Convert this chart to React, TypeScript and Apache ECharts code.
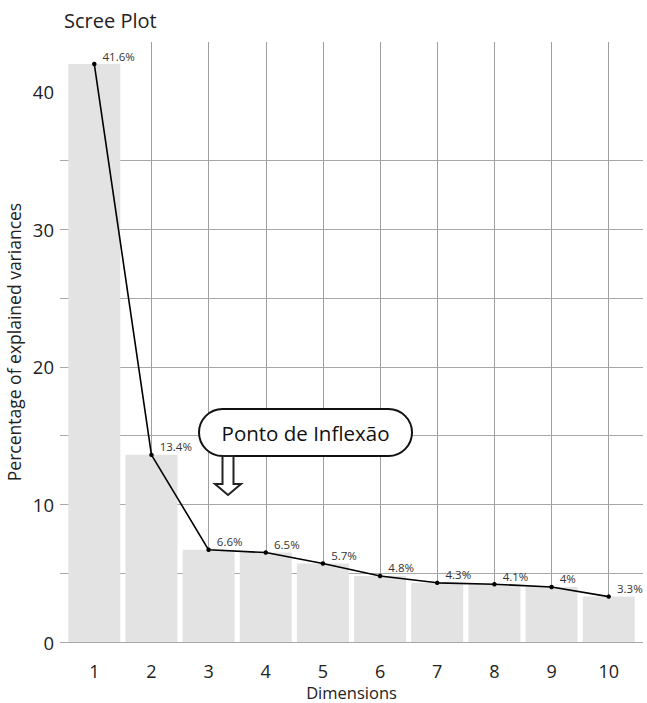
import React, { useEffect, useRef } from "react";
import * as echarts from "echarts";

const dims = [1, 2, 3, 4, 5, 6, 7, 8, 9, 10];
const variances = [42.0, 13.6, 6.7, 6.5, 5.7, 4.8, 4.3, 4.2, 4.0, 3.3];
const pctLabels = ["41.6%", "13.4%", "6.6%", "6.5%", "5.7%", "4.8%", "4.3%", "4.1%", "4%", "3.3%"];
const yTickValues = [0, 5, 10, 15, 20, 25, 30, 35, 40];
const yLabelValues = [0, 10, 20, 30, 40];
const xGridValues = [2, 3, 4, 5, 6, 7, 8, 9, 10];

const FONT = "Open Sans";

export default function App() {
  const ref = useRef<HTMLDivElement>(null);

  useEffect(() => {
    if (!ref.current) return;
    const chart = echarts.init(ref.current, undefined, { renderer: "svg" });
    const pts = dims.map((d, i) => [d, variances[i]]);
    const option: any = {
      animation: false,
      textStyle: { fontFamily: FONT },
      title: {
        text: "Scree Plot",
        left: 59,
        top: 5,
        textStyle: { fontSize: 20, fontWeight: "normal", color: "#222", fontFamily: FONT },
      },
      grid: { left: 60, right: 4, top: 42, bottom: 61, containLabel: false, outerBoundsMode: "none" },
      xAxis: {
        type: "value",
        min: 0.4,
        max: 10.6,
        axisLine: { show: false },
        axisTick: { show: false, customValues: xGridValues },
        axisLabel: { customValues: dims, fontSize: 18, lineHeight: 18, color: "#222", margin: 20, fontFamily: FONT },
        splitLine: { show: true, lineStyle: { color: "#a0a0a0", width: 1 } },
        name: "Dimensions",
        nameLocation: "middle",
        nameGap: 42,
        nameMoveOverlap: false,
        nameTextStyle: { fontSize: 16.5, color: "#222", fontFamily: FONT, lineHeight: 16 },
      },
      yAxis: {
        type: "value",
        min: 0,
        max: 43.6,
        axisLine: { show: false },
        axisTick: { show: false, customValues: yTickValues },
        axisLabel: { customValues: yLabelValues, fontSize: 18.5, color: "#222", margin: 6, fontFamily: FONT },
        splitLine: { show: true, showMaxLine: false, lineStyle: { color: "#a8a8a8", width: 1 } },
        name: "Percentage of explained variances",
        nameLocation: "middle",
        nameGap: 37,
        nameMoveOverlap: false,
        nameTextStyle: { fontSize: 17.5, color: "#222", fontFamily: FONT },
      },
      series: [
        {
          type: "bar",
          data: pts,
          barWidth: 52,
          itemStyle: { color: "#e3e3e3" },
          z: 2,
        },
        {
          type: "line",
          data: pts,
          symbol: "circle",
          symbolSize: 4.5,
          lineStyle: { color: "#000", width: 1.6 },
          itemStyle: { color: "#000" },
          label: {
            show: true,
            position: "right",
            distance: 5,
            offset: [1, -8],
            formatter: (p: any) => pctLabels[p.dataIndex],
            fontSize: 11.5,
            color: "#333",
            fontFamily: FONT,
          },
          z: 3,
        },
      ],
      graphic: [
        {
          type: "rect",
          z: 100,
          shape: { x: 199, y: 409, width: 213, height: 47, r: 23.5 },
          style: { fill: "#fff", stroke: "#111", lineWidth: 2 },
        },
        {
          type: "text",
          z: 101,
          x: 305.5,
          y: 433,
          style: {
            text: "Ponto de Inflexão",
            fontSize: 20.5,
            fontFamily: FONT,
            fill: "#111",
            align: "center",
            verticalAlign: "middle",
          },
        },
        {
          type: "polygon",
          z: 100,
          shape: {
            points: [
              [222.5, 456],
              [233.5, 456],
              [233.5, 484],
              [241, 484],
              [228, 495],
              [215, 484],
              [222.5, 484],
            ],
          },
          style: { fill: "#fff", stroke: "#222", lineWidth: 2 },
        },
      ],
    };
    chart.setOption(option);
    return () => chart.dispose();
  }, []);

  return (
    <div
      ref={ref}
      style={{ position: "fixed", left: 0, top: 0, width: 647, height: 703, background: "#fff" }}
    />
  );
}
